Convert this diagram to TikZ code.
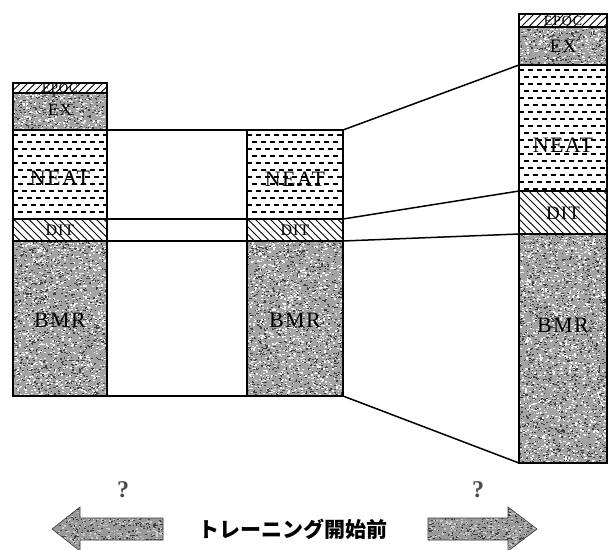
\documentclass[tikz,border=0pt]{standalone}
\usepackage{fontspec}
\setmainfont{Liberation Serif}
\newfontfamily\cjk{Noto Sans CJK JP}
\tikzset{
  box/.style={draw=black, line width=1.1pt, inner sep=0pt, outer sep=0pt},
  conn/.style={draw=black, line width=1.5pt},
  lab/.style={inner sep=0pt, text=black, font=\fontsize{#1}{#1}\selectfont\addfontfeature{LetterSpace=6}},
  qmark/.style={inner sep=0pt, text=black!70, font=\bfseries\fontsize{24}{24}\selectfont},
  arrowline/.style={draw=gray!45!black, line width=0.6pt},
}
\pgfmathsetseed{7}
% gray speckled texture: x1 y1 x2 y2 base-colour light-speck-colour
\newcommand\noisefill[6]{%
  \fill[#5] (#1,#2) rectangle (#3,#4);
  \begin{scope}
    \clip (#1,#2) rectangle (#3,#4);
    \pgfmathtruncatemacro\nn{(#3-#1)/13*(#4-#2)}
    \foreach \i in {1,...,\nn}{
      \fill[#6] ({#1+rnd*(#3-#1)},{#2+rnd*(#4-#2)}) rectangle ++(1.8,1.2);
      \fill[black!75] ({#1+rnd*(#3-#1)},{#2+rnd*(#4-#2)}) rectangle ++(1.5,1.1);
    }
  \end{scope}}
% "\" hatching
\newcommand\hatchback[4]{%
  \begin{scope}
    \clip (#1,#2) rectangle (#3,#4);
    \pgfmathsetmacro\hh{#4-#2}
    \foreach \k in {0,...,30}{
      \draw[line width=0.9pt] ({#1-\hh+\k*7.5},#2) -- ++(\hh,\hh);
    }
  \end{scope}}
% "/" hatching
\newcommand\hatchfwd[4]{%
  \begin{scope}
    \clip (#1,#2) rectangle (#3,#4);
    \pgfmathsetmacro\hh{#4-#2}
    \foreach \k in {0,...,30}{
      \draw[line width=0.9pt] ({#1-\hh+\k*7.5},#4) -- ++(\hh,-\hh);
    }
  \end{scope}}
% rows of short dashes
\newcommand\neatfill[4]{%
  \begin{scope}
    \clip (#1,#2) rectangle (#3,#4);
    \foreach \k in {0,...,22}{
      \pgfmathsetmacro\yy{#2+4.5+\k*7}
      \pgfmathsetmacro\ph{mod(\k,2)*4.5}
      \draw[line width=2pt, dash pattern=on 5pt off 4pt, dash phase=\ph pt] (#1,\yy) -- (#3,\yy);
    }
  \end{scope}}
% layer frame node
\newcommand\layer[5]{%
  \node[box, minimum width={#4-#2}, minimum height={#5-#3}] (#1) at ({(#2+#4)/2},{(#3+#5)/2}) {};}
\begin{document}
\begin{tikzpicture}[x=1pt,y=-1pt]
\useasboundingbox (0,0) rectangle (609,549);
\fill[white] (0,0) rectangle (609,549);

% ---------- textures ----------
% left column
\hatchfwd{13}{83}{107}{93}
\noisefill{13}{93}{107}{130}{gray!72}{gray!10}
\neatfill{13}{130}{107}{219}
\hatchback{13}{219}{107}{241}
\noisefill{13}{241}{107}{396}{gray!72}{gray!10}
% middle column
\neatfill{247}{130}{343}{219}
\hatchback{247}{219}{343}{241}
\noisefill{247}{241}{343}{396}{gray!72}{gray!10}
% right column
\hatchfwd{519}{14}{607}{27}
\noisefill{519}{27}{607}{65}{gray!72}{gray!10}
\neatfill{519}{65}{607}{191}
\hatchback{519}{191}{607}{234}
\noisefill{519}{234}{607}{463}{gray!72}{gray!10}

% ---------- frames ----------
\layer{Lepoc}{13}{83}{107}{93}
\layer{Lex}{13}{93}{107}{130}
\layer{Lneat}{13}{130}{107}{219}
\layer{Ldit}{13}{219}{107}{241}
\layer{Lbmr}{13}{241}{107}{396}
\layer{Mneat}{247}{130}{343}{219}
\layer{Mdit}{247}{219}{343}{241}
\layer{Mbmr}{247}{241}{343}{396}
\layer{Repoc}{519}{14}{607}{27}
\layer{Rex}{519}{27}{607}{65}
\layer{Rneat}{519}{65}{607}{191}
\layer{Rdit}{519}{191}{607}{234}
\layer{Rbmr}{519}{234}{607}{463}

% ---------- labels ----------
\node[lab=13] (tLepoc) at (60,88.5) {EPOC};
\node[lab=17] (tLex) at (60,110) {EX};
\node[lab=22] (tLneat) at (60,178) {NEAT};
\node[lab=16] (tLdit) at (60,230.5) {DIT};
\node[lab=22] (tLbmr) at (60,320) {BMR};
\node[lab=22] (tMneat) at (295,179) {NEAT};
\node[lab=16] (tMdit) at (295,230.5) {DIT};
\node[lab=22] (tMbmr) at (295,320) {BMR};
\node[lab=14] (tRepoc) at (563,21) {EPOC};
\node[lab=19] (tRex) at (563,46) {EX};
\node[lab=22] (tRneat) at (563,145) {NEAT};
\node[lab=19] (tRdit) at (563,213) {DIT};
\node[lab=22] (tRbmr) at (563,325) {BMR};

% ---------- connectors ----------
\draw[conn] (Lneat.north east) -- (Mneat.north west);
\draw[conn] (Ldit.north east) -- (Mdit.north west);
\draw[conn] (Ldit.south east) -- (Mdit.south west);
\draw[conn] (Lbmr.south east) -- (Mbmr.south west);
\draw[conn] (Mneat.north east) -- (Rneat.north west);
\draw[conn] (Mdit.north east) -- (Rdit.north west);
\draw[conn] (Mdit.south east) -- (Rdit.south west);
\draw[conn] (Mbmr.south east) -- (Rbmr.south west);

% ---------- bottom arrows ----------
\begin{scope}
  \clip (163,518) -- (80,518) -- (80,507) -- (52,529) -- (80,551) -- (80,540) -- (163,540) -- cycle;
  \noisefill{50}{505}{165}{551}{gray!80}{gray!40}
\end{scope}
\begin{scope}
  \clip (428,518) -- (508,518) -- (508,507) -- (537,529) -- (508,551) -- (508,540) -- (428,540) -- cycle;
  \noisefill{426}{505}{539}{551}{gray!80}{gray!40}
\end{scope}
\draw[arrowline] (163,518) -- (80,518) -- (80,507) -- (52,529) -- (80,551) -- (80,540) -- (163,540) -- cycle;
\draw[arrowline] (428,518) -- (508,518) -- (508,507) -- (537,529) -- (508,551) -- (508,540) -- (428,540) -- cycle;

\node[qmark] (q1) at (123,490) {?};
\node[qmark] (q2) at (478,490) {?};
\node[inner sep=0pt, font=\cjk\bfseries\fontsize{21}{21}\selectfont] (title) at (293,529) {トレーニング開始前};
\end{tikzpicture}
\end{document}
